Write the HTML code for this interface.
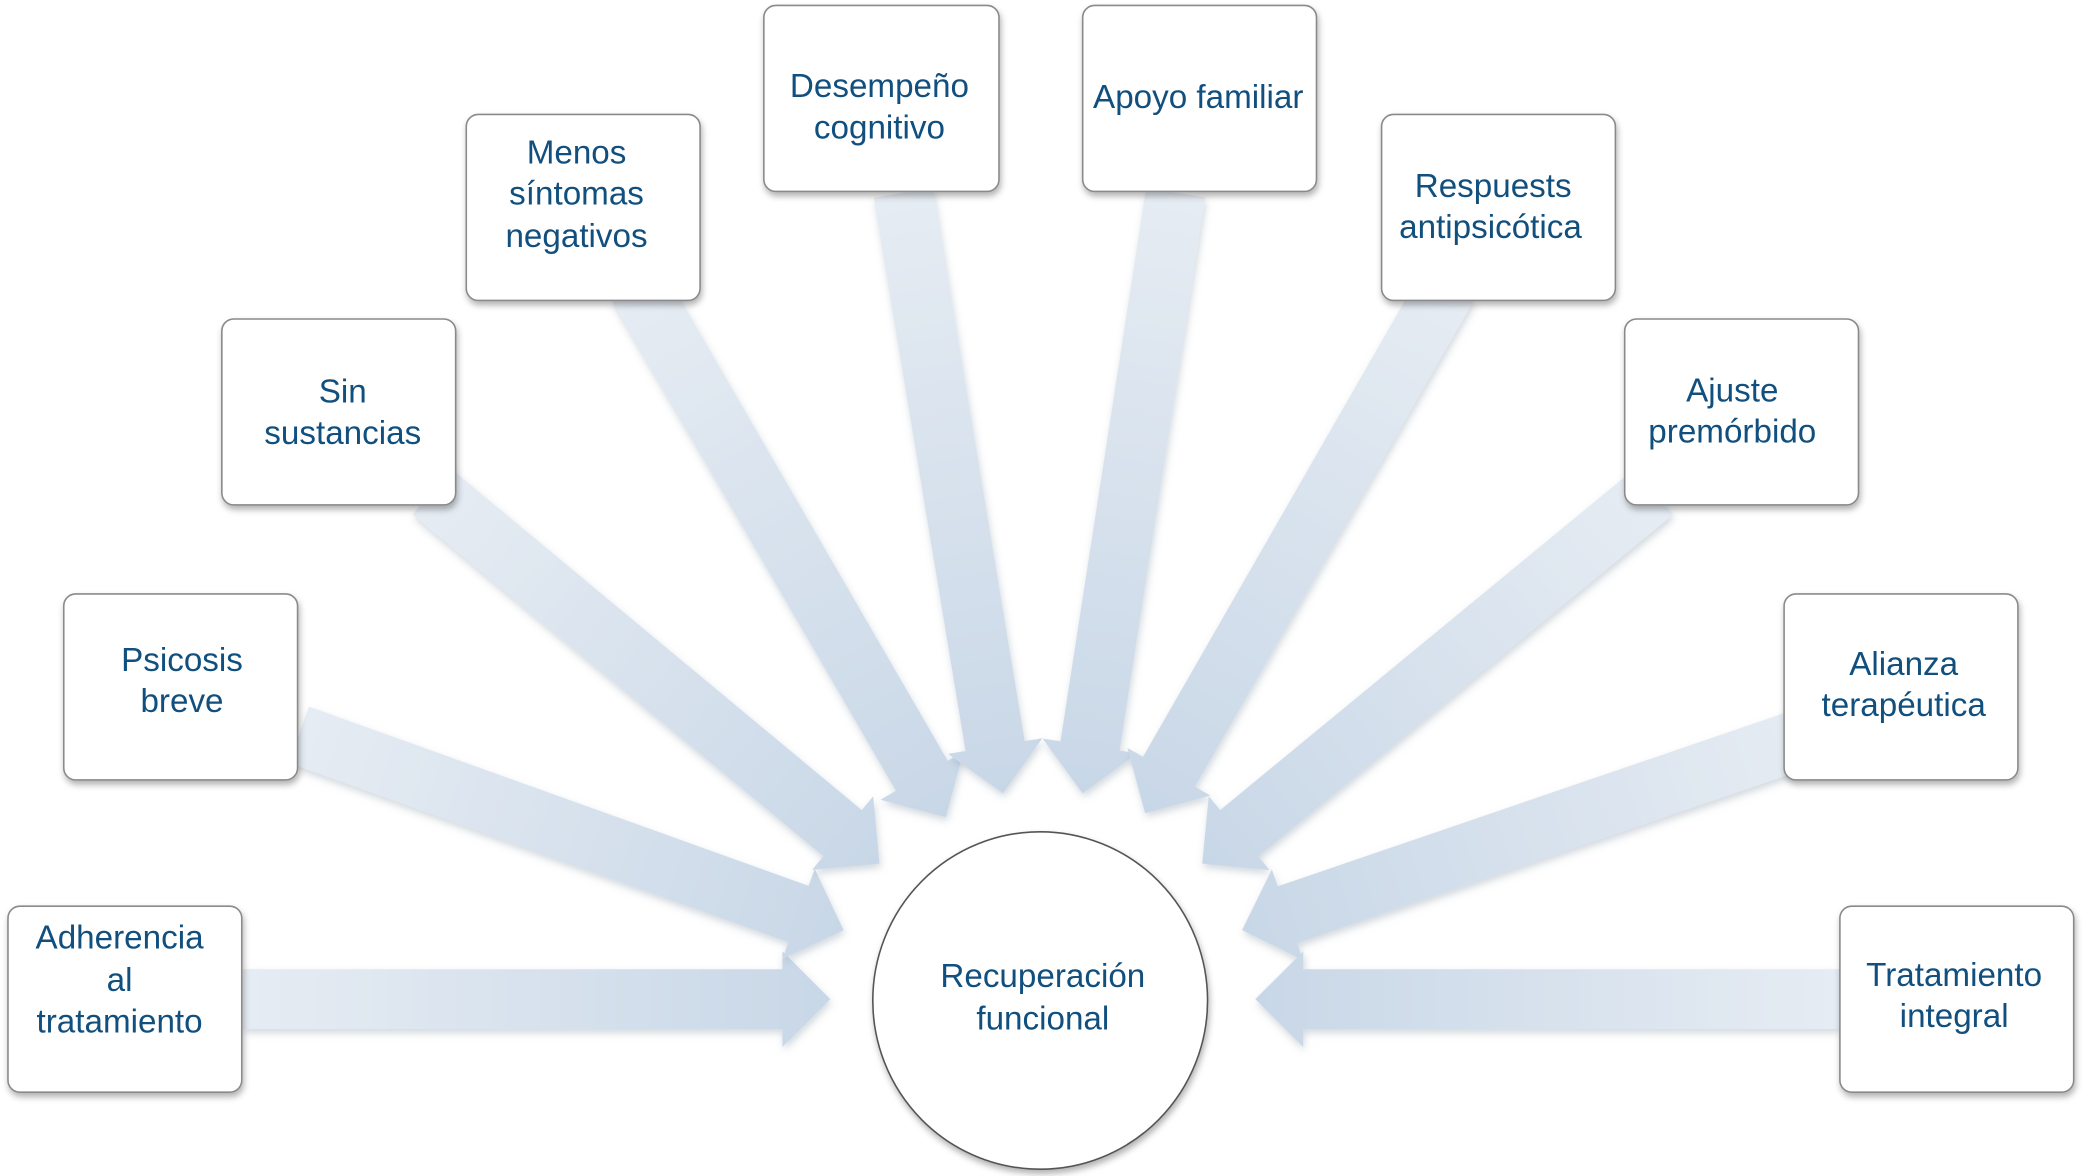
<!DOCTYPE html>
<html><head><meta charset="utf-8"><style>
html,body{margin:0;padding:0;background:#fff;}
svg{display:block;}
text{font-family:"Liberation Sans",Arial,sans-serif;font-size:25px;fill:#104f7e;text-anchor:middle;}
</style></head><body>
<svg id="s" width="2083" height="1176" viewBox="0 0 1568 885" xmlns="http://www.w3.org/2000/svg">
<defs>
<filter id="sh" x="-20%" y="-20%" width="140%" height="140%"><feDropShadow dx="1" dy="3" stdDeviation="2.5" flood-color="#000" flood-opacity="0.3"/></filter>
<filter id="ash" x="-20%" y="-20%" width="140%" height="140%"><feDropShadow dx="1" dy="3" stdDeviation="3" flood-color="#8090a0" flood-opacity="0.35"/></filter>
</defs>
<g id="arrows"></g>
<g filter="url(#sh)" fill="#fff" stroke="#8a8a8a" stroke-width="1.2">
<rect x="6" y="682" width="176" height="140" rx="9"/>
<rect x="48" y="447" width="176" height="140" rx="9"/>
<rect x="167" y="240" width="176" height="140" rx="9"/>
<rect x="351" y="86" width="176" height="140" rx="9"/>
<rect x="575" y="4" width="177" height="140" rx="9"/>
<rect x="815" y="4" width="176" height="140" rx="9"/>
<rect x="1040" y="86" width="176" height="140" rx="9"/>
<rect x="1223" y="240" width="176" height="140" rx="9"/>
<rect x="1343" y="447" width="176" height="140" rx="9"/>
<rect x="1385" y="682" width="176" height="140" rx="9"/>
<ellipse cx="783" cy="753" rx="126" ry="127" stroke="#555"/>
</g>
<text x="90" y="714">Adherencia</text><text x="90" y="746">al</text><text x="90" y="777">tratamiento</text>
<text x="137" y="505">Psicosis</text><text x="137" y="536">breve</text>
<text x="258" y="303">Sin</text><text x="258" y="334">sustancias</text>
<text x="434" y="123">Menos</text><text x="434" y="154">síntomas</text><text x="434" y="186">negativos</text>
<text x="662" y="73">Desempeño</text><text x="662" y="104">cognitivo</text>
<text x="902" y="81">Apoyo familiar</text>
<text x="1124" y="148">Respuests</text><text x="1122" y="179">antipsicótica</text>
<text x="1304" y="302">Ajuste</text><text x="1304" y="333">premórbido</text>
<text x="1433" y="508">Alianza</text><text x="1433" y="539">terapéutica</text>
<text x="1471" y="742">Tratamiento</text><text x="1471" y="773">integral</text>
<text x="785" y="743">Recuperación</text><text x="785" y="775">funcional</text>
</svg>
<script>
var A=[[183,752,625,752],[225,553,635,700],[325,370,662,650],[480,215,712,615],[680,145,755,597],[885,145,815,597],[1090,215,862,612],[1245,370,905,650],[1365,553,935,700],[1385,752,945,752]];
var g=document.getElementById('arrows'),defs=document.querySelector('defs'),ns='http://www.w3.org/2000/svg';
A.forEach(function(a,i){
 var x1=a[0],y1=a[1],x2=a[2],y2=a[3],dx=x2-x1,dy=y2-y1,L=Math.hypot(dx,dy),ux=dx/L,uy=dy/L,px=-uy,py=ux;
 var sw=22.5,hw=36,hl=36;
 var bx=x2-ux*hl,by=y2-uy*hl;
 var pts=[[x1+px*sw,y1+py*sw],[bx+px*sw,by+py*sw],[bx+px*hw,by+py*hw],[x2,y2],[bx-px*hw,by-py*hw],[bx-px*sw,by-py*sw],[x1-px*sw,y1-py*sw]];
 var lg=document.createElementNS(ns,'linearGradient');lg.setAttribute('id','g'+i);lg.setAttribute('gradientUnits','userSpaceOnUse');
 lg.setAttribute('x1',x1);lg.setAttribute('y1',y1);lg.setAttribute('x2',x2);lg.setAttribute('y2',y2);
 lg.innerHTML='<stop offset="0" stop-color="#e6ecf3"/><stop offset="1" stop-color="#c8d7e7"/>';defs.appendChild(lg);
 var p=document.createElementNS(ns,'polygon');p.setAttribute('points',pts.map(function(q){return q[0].toFixed(1)+','+q[1].toFixed(1)}).join(' '));
 p.setAttribute('fill','url(#g'+i+')');p.setAttribute('filter','url(#ash)');g.appendChild(p);
});
</script>
</body></html>
